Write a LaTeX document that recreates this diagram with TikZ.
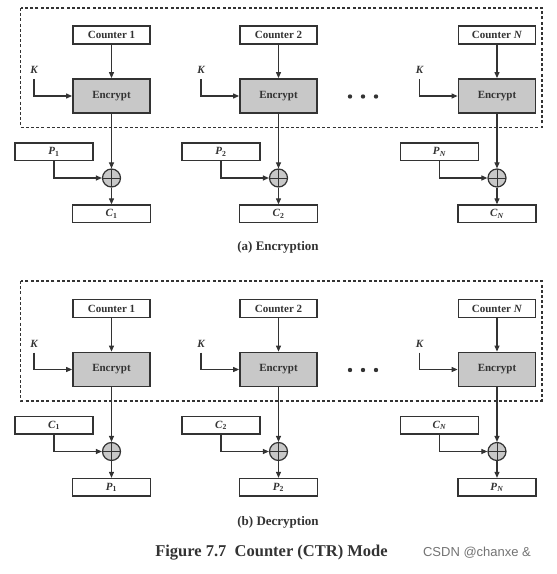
\documentclass[tikz,border=0pt]{standalone}
\usepackage{fontspec}
\setmainfont{Liberation Serif}
\newfontfamily\wmfont{Liberation Sans}
\usetikzlibrary{arrows.meta}
\definecolor{ink}{HTML}{333333}
\definecolor{encgray}{HTML}{C8C8C8}
\tikzset{
  ln/.style={draw=ink, line width=1.1pt},
  arr/.style={ln, -{Triangle[length=6pt,width=5pt]}},
  blk/.style={draw=ink, line width=1.4pt, fill=white, inner sep=0pt, font=\fontsize{11}{13}\selectfont\bfseries, text=ink},
  ctrbox/.style={blk, minimum width=77pt, minimum height=18pt},
  encbox/.style={blk, fill=encgray, line width=1.8pt, minimum width=77pt, minimum height=34pt},
  iobox/.style={blk, minimum width=78pt, minimum height=17.5pt},
  xorc/.style={circle, draw=ink, line width=1.2pt, fill=encgray, minimum size=18pt, inner sep=0pt,
    path picture={\draw[ink,line width=1pt] (path picture bounding box.north) -- (path picture bounding box.south) (path picture bounding box.west) -- (path picture bounding box.east);}},
  klabel/.style={font=\fontsize{11}{13}\selectfont\bfseries\itshape, text=ink, inner sep=0pt},
  dashbox/.style={draw=ink, line width=1.8pt, dash pattern=on 3pt off 2.2pt},
  dotc/.style={circle, fill=ink, inner sep=0pt, minimum size=4.4pt},
  captext/.style={font=\fontsize{13}{15}\selectfont\bfseries, text=ink},
}
\newcommand\ctrstage[6]{%
  \node[ctrbox] (#1ctr) at (#2,#3+35) {#4};
  \node[encbox] (#1enc) at (#2,#3+96) {Encrypt};
  \node[iobox] (#1in) at (#2-57.5,#3+151.7) {#5};
  \node[xorc] (#1xor) at (#2,#3+178) {};
  \node[iobox] (#1out) at (#2,#3+213.8) {#6};
  \node[klabel] (#1k) at (#2-77.5,#3+70) {K};
  \coordinate (#1ks) at (#2-77.5,#3+79);
  \draw[arr] (#1ctr) -- (#1enc);
  \draw[arr] (#1ks) |- (#1enc.west);
  \draw[arr] (#1enc) -- (#1xor);
  \draw[arr] (#1in) |- (#1xor);
  \draw[arr] (#1xor) -- (#1out);
}
\begin{document}
\begin{tikzpicture}[x=1pt,y=-1pt]
\useasboundingbox (0,0) rectangle (557,574);
% encryption
\draw[dashbox] (20.5,8) rectangle (541.7,127.5);
\ctrstage{ea}{111.5}{0}{Counter 1}{\textit{P}\textsubscript{1}}{\textit{C}\textsubscript{1}}
\ctrstage{eb}{278.5}{0}{Counter 2}{\textit{P}\textsubscript{2}}{\textit{C}\textsubscript{2}}
\ctrstage{en}{497}{0}{Counter \textit{N}}{\textit{P}\textsubscript{\textit{N}}}{\textit{C}\textsubscript{\textit{N}}}
\node[dotc] (ed1) at (350,96.5) {};
\node[dotc] (ed2) at (363,96.5) {};
\node[dotc] (ed3) at (376,96.5) {};
\node[captext] (capa) at (278,247) {(a) Encryption};
% decryption
\draw[dashbox] (20.5,281) rectangle (541.7,400.7);
\ctrstage{da}{111.5}{273.5}{Counter 1}{\textit{C}\textsubscript{1}}{\textit{P}\textsubscript{1}}
\ctrstage{db}{278.5}{273.5}{Counter 2}{\textit{C}\textsubscript{2}}{\textit{P}\textsubscript{2}}
\ctrstage{dn}{497}{273.5}{Counter \textit{N}}{\textit{C}\textsubscript{\textit{N}}}{\textit{P}\textsubscript{\textit{N}}}
\node[dotc] (dd1) at (350,370) {};
\node[dotc] (dd2) at (363,370) {};
\node[dotc] (dd3) at (376,370) {};
\node[captext] (capb) at (278,522) {(b) Decryption};
\node[font=\fontsize{16.5}{18}\selectfont\bfseries, text=ink] (fig) at (271.5,553) {Figure 7.7\ \ Counter (CTR) Mode};
\node[font=\wmfont\fontsize{13}{15}\selectfont, text=black!55] (wm) at (477,553) {CSDN @chanxe \&};
\end{tikzpicture}
\end{document}
